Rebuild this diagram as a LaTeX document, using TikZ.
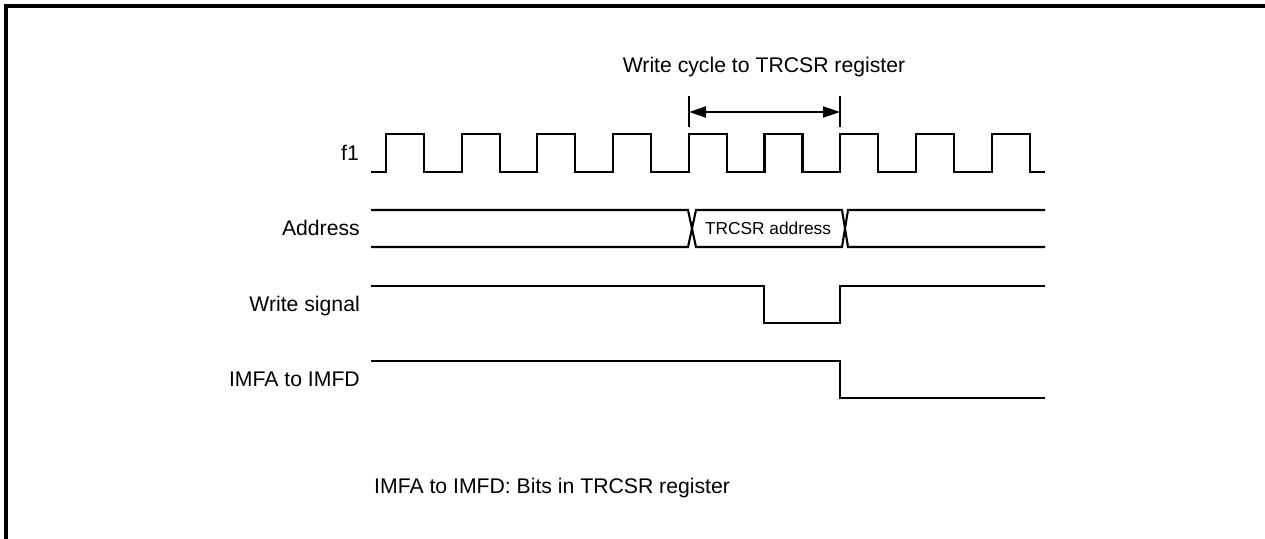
\documentclass[tikz,border=0pt]{standalone}
\usepackage{fontspec}
\setmainfont{Liberation Sans}
\usetikzlibrary{arrows.meta}
\begin{document}
\begin{tikzpicture}[x=1pt,y=-1pt,
  sig/.style={line width=2.1pt,line join=miter},
  lbl/.style={anchor=base east,inner sep=0pt,font=\fontsize{21.2}{25}\selectfont},
  txt/.style={inner sep=0pt,font=\fontsize{21.2}{25}\selectfont},
  small/.style={inner sep=0pt,font=\fontsize{17.3}{20}\selectfont},
  dim/.style={line width=2pt,{Triangle[length=17pt,width=11pt]}-{Triangle[length=17pt,width=11pt]}}]
\useasboundingbox (0,0) rectangle (1265,538);
% frame
\draw[line width=3.2pt] (6,540) -- (6,6) -- (1267,6);
% labels
\node[lbl] (lf) at (359,160) {f1};
\node[lbl] (la) at (360,235) {Address};
\node[lbl] (lw) at (360,311) {Write signal};
\node[lbl] (li) at (360,386.5) {IMFA to IMFD};
\node[txt,anchor=base west] (note) at (374,493) {IMFA to IMFD: Bits in TRCSR register};
\node[txt,anchor=base] (title) at (764,72) {Write cycle to TRCSR register};
% clock
\draw[sig] (371,172)
  \foreach \k in {0,...,8} {
    -- ({386+75.7*\k},172) -- ({386+75.7*\k},134)
    -- ({424+75.7*\k},134) -- ({424+75.7*\k},172)
  } -- (1045,172);
% write cycle dimension
\coordinate (t1a) at (689,96);
\coordinate (t1b) at (689,127);
\coordinate (t2a) at (840,96);
\coordinate (t2b) at (840,127);
\coordinate (d1) at (689,112);
\coordinate (d2) at (840,112);
\draw[line width=1.8pt] (t1a) -- (t1b);
\draw[line width=1.8pt] (t2a) -- (t2b);
\draw[dim] (d1) -- (d2);
% address bus
\draw[sig] (371,210) -- (688,210) -- (696,247) -- (842,247) -- (848,210) -- (1045,210);
\draw[sig] (371,247) -- (688,247) -- (696,210) -- (842,210) -- (848,247) -- (1045,247);
\node[small,anchor=base] (addr) at (768,234) {TRCSR address};
% write signal
\draw[sig] (371,286) -- (764,286) -- (764,323) -- (840,323) -- (840,286) -- (1045,286);
% IMFA to IMFD
\draw[sig] (371,361) -- (840,361) -- (840,398) -- (1045,398);
\end{tikzpicture}
\end{document}
